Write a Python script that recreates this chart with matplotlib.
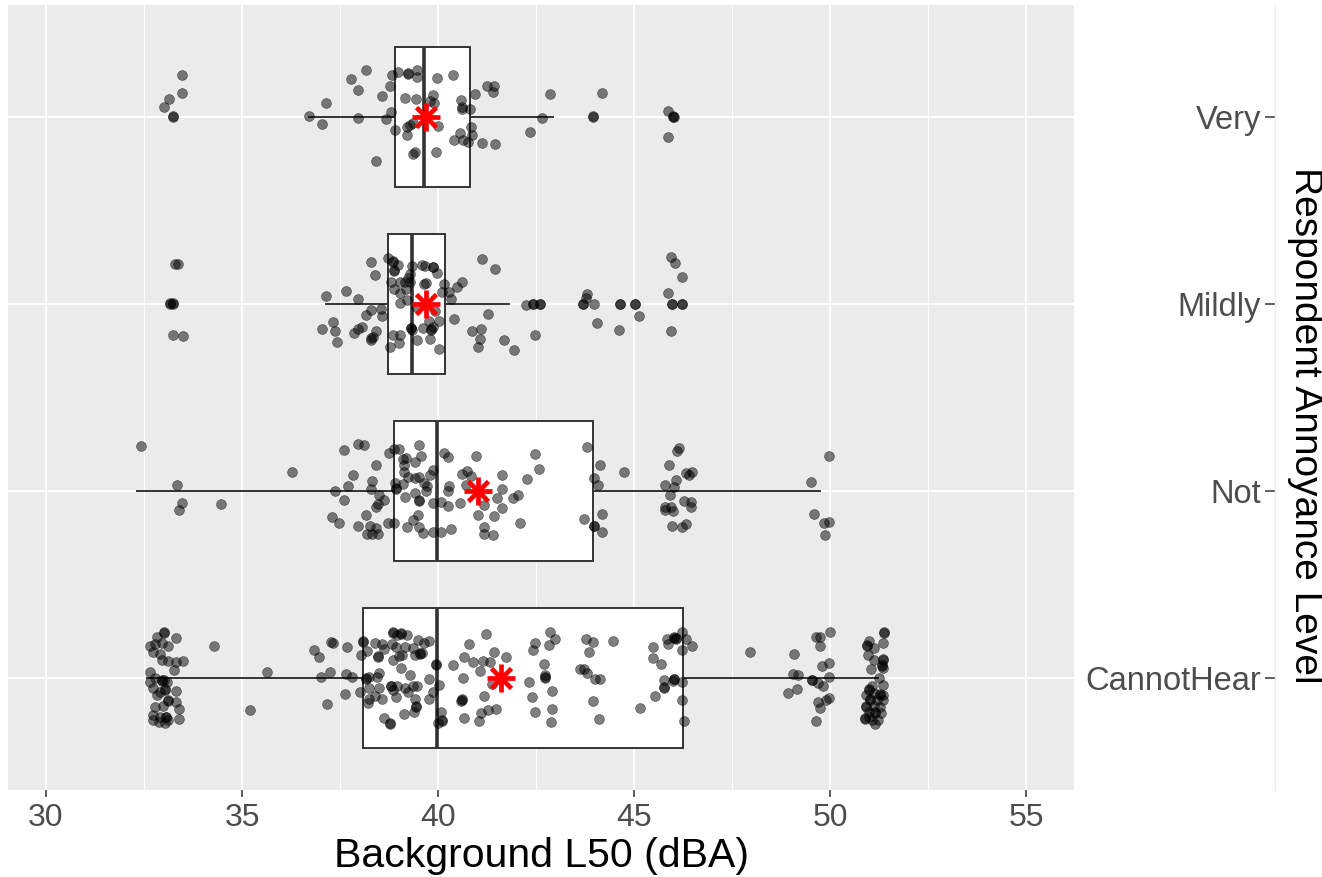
import numpy as np
import matplotlib
matplotlib.use('Agg')
import matplotlib.pyplot as plt

plt.rcParams['font.family'] = ['Liberation Sans', 'DejaVu Sans']

# annoyance levels, bottom to top
levels = ['CannotHear', 'Not', 'Mildly', 'Very']

# box stats (dBA)
whislo = [32.58, 32.33, 37.15, 36.70]
q1 = [38.08, 38.88, 38.71, 38.90]
med = [39.96, 39.97, 39.34, 39.64]
q3 = [46.24, 43.95, 40.18, 40.82]
whishi = [51.22, 49.74, 41.81, 42.94]
means = [41.61, 41.03, 39.69, 39.69]

# jittered points: L50 value and vertical jitter offset
very_x = [33.47, 33.47, 33.13, 33.01, 33.25, 33.25, 36.70, 37.15, 37.04, 37.79,
          38.17, 37.97, 37.96, 38.42, 38.58, 38.68, 38.77, 38.80, 38.82, 38.91,
          38.99, 39.23, 39.23, 39.45, 39.47, 39.15, 39.43, 39.21, 39.28, 39.21,
          39.37, 39.41, 39.37, 39.87, 39.80, 39.89, 39.96, 40.01, 39.95, 40.39,
          40.59, 40.60, 40.62, 40.81, 40.94, 40.84, 40.87, 40.56, 40.41, 40.64,
          40.76, 41.12, 41.44, 41.25, 41.43, 41.41, 42.35, 42.66, 42.86, 43.95,
          43.95, 44.19, 45.87, 45.98, 45.98, 46.02, 45.86]
very_j = [0.227, 0.127, 0.096, 0.055, 0.005, 0.000, 0.005, 0.075, -0.038, 0.204,
          0.254, 0.145, -0.002, -0.236, 0.114, -0.011, 0.164, 0.030, 0.225, -0.068,
          0.239, 0.236, 0.232, 0.252, 0.216, 0.100, 0.098, -0.052, -0.041, -0.098,
          -0.029, -0.184, -0.195, 0.120, 0.088, 0.075, 0.207, -0.045, -0.189, 0.223,
          0.093, 0.055, 0.046, 0.043, 0.123, -0.054, -0.098, -0.086, -0.123, -0.120,
          -0.132, -0.138, -0.145, 0.164, 0.164, 0.136, -0.082, -0.007, 0.123, 0.005,
          0.000, 0.129, 0.034, 0.005, 0.000, 0.002, -0.105]

mild_x = [33.28, 33.37, 33.15, 33.15, 33.24, 33.24, 33.24, 33.50, 37.15, 37.66,
          37.95, 37.32, 37.05, 37.38, 37.42, 37.85, 37.97, 38.07, 38.17, 38.29,
          38.28, 38.40, 38.55, 38.58, 38.41, 38.33, 38.28, 38.29, 38.71, 38.84,
          38.84, 38.87, 38.87, 38.99, 38.80, 38.88, 39.03, 39.16, 39.02, 39.17,
          39.22, 39.29, 39.33, 39.60, 39.67, 39.87, 39.87, 39.98, 39.29, 39.64,
          39.68, 39.04, 39.21, 39.43, 39.77, 40.03, 39.87, 39.82, 39.82, 39.61,
          39.32, 39.32, 39.34, 38.86, 39.02, 39.01, 38.77, 39.46, 39.79, 40.02,
          40.16, 40.11, 40.29, 40.33, 40.49, 40.62, 39.91, 40.41, 41.13, 41.44,
          41.27, 40.87, 41.09, 41.08, 41.01, 41.69, 41.93, 42.25, 42.41, 42.41,
          42.59, 42.59, 42.48, 43.70, 43.70, 43.81, 43.78, 43.98, 44.05, 44.65,
          44.65, 44.61, 45.03, 45.03, 45.13, 45.95, 46.04, 46.23, 45.86, 45.97,
          45.97, 46.23, 46.23, 45.95]
mild_j = [0.213, 0.216, 0.004, 0.000, 0.004, 0.000, -0.164, -0.170, 0.043, 0.070,
          0.029, -0.096, -0.132, -0.146, -0.204, -0.155, -0.136, -0.121, -0.057, -0.034,
          0.227, 0.154, -0.025, -0.064, -0.146, -0.175, -0.193, -0.179, 0.245, 0.229,
          0.225, 0.182, 0.178, 0.209, 0.120, 0.079, 0.120, 0.120, 0.061, 0.079,
          0.141, 0.161, 0.204, 0.207, 0.204, 0.200, 0.196, 0.168, 0.118, 0.107,
          0.114, 0.007, 0.021, -0.014, -0.091, -0.093, -0.125, -0.139, -0.135, -0.129,
          -0.130, -0.126, -0.139, -0.164, -0.164, -0.207, -0.230, -0.193, -0.189, -0.238,
          0.105, 0.066, 0.066, 0.027, 0.091, 0.120, -0.039, -0.080, 0.241, 0.188,
          -0.052, -0.145, -0.132, -0.186, -0.229, -0.193, -0.245, -0.004, 0.000, 0.000,
          0.000, 0.000, -0.168, 0.000, 0.000, 0.052, 0.030, 0.000, -0.104, 0.000,
          0.000, -0.138, 0.000, 0.000, -0.063, 0.252, 0.220, 0.145, 0.059, 0.000,
          0.000, 0.000, 0.000, -0.146]

not_x = [32.42, 33.35, 33.46, 33.40, 34.46, 36.28, 37.60, 37.96, 38.11, 37.84,
         37.70, 37.36, 37.61, 38.41, 38.32, 38.29, 38.49, 38.63, 38.46, 38.42,
         37.29, 37.48, 38.16, 37.95, 38.27, 38.42, 38.19, 38.31, 38.46, 38.72,
         38.87, 38.76, 38.88, 39.01, 38.93, 38.93, 38.91, 39.11, 39.18, 39.13,
         39.13, 39.22, 39.10, 39.15, 39.41, 39.52, 39.57, 39.41, 39.51, 39.63,
         39.73, 39.80, 39.88, 39.69, 39.42, 39.52, 39.52, 39.48, 39.37, 39.20,
         39.52, 39.62, 39.86, 39.88, 40.07, 40.07, 40.14, 40.26, 40.28, 40.26,
         40.26, 40.32, 40.56, 40.61, 40.75, 40.83, 40.71, 40.96, 41.17, 41.01,
         41.16, 41.18, 41.40, 41.42, 41.50, 41.64, 41.64, 41.64, 41.90, 42.03,
         42.08, 42.28, 42.47, 42.58, 43.81, 44.12, 43.98, 44.09, 44.73, 43.73,
         43.97, 43.97, 44.18, 44.18, 46.15, 46.10, 45.88, 46.07, 45.78, 46.01,
         45.91, 46.33, 46.40, 46.48, 46.26, 46.45, 46.45, 45.80, 45.94, 45.78,
         46.00, 45.97, 46.21, 46.32, 49.97, 49.52, 49.58, 49.84, 49.97, 49.88]
not_j = [0.241, 0.032, -0.064, -0.104, -0.070, 0.102, 0.220, 0.250, 0.248, 0.084,
         0.027, -0.002, -0.048, 0.139, 0.055, 0.011, -0.023, -0.046, -0.068, -0.086,
         -0.138, -0.171, -0.129, -0.188, -0.188, -0.196, -0.232, -0.232, -0.232, -0.173,
         -0.171, 0.205, 0.223, 0.223, 0.014, 0.010, 0.043, 0.171, 0.175, 0.139,
         0.100, 0.073, 0.039, -0.032, 0.157, 0.248, 0.186, 0.071, 0.075, 0.041,
         0.027, 0.086, 0.111, 0.000, -0.009, -0.054, -0.050, -0.129, -0.155, -0.193,
         -0.195, -0.227, -0.221, -0.063, -0.061, -0.218, 0.202, 0.182, 0.027, -0.002,
         -0.082, -0.202, -0.066, 0.089, 0.109, 0.082, 0.030, 0.186, -0.075, -0.129,
         -0.191, -0.229, -0.236, -0.132, -0.038, 0.086, 0.013, -0.091, -0.039, -0.021,
         -0.173, 0.064, 0.200, 0.120, 0.234, 0.138, 0.071, 0.030, 0.102, -0.152,
         -0.189, -0.185, -0.125, -0.218, 0.230, 0.216, 0.139, 0.061, 0.034, 0.021,
         -0.020, 0.095, 0.088, 0.104, -0.052, -0.061, -0.086, -0.086, -0.086, -0.104,
         -0.107, -0.188, -0.195, -0.179, 0.188, 0.048, -0.121, -0.173, -0.166, -0.234]

hear_x = [33.01, 33.01, 32.84, 33.31, 32.65, 32.78, 32.95, 33.12, 32.74, 32.91,
          32.95, 33.10, 33.31, 33.50, 33.27, 32.65, 32.78, 32.95, 32.95, 33.08,
          32.72, 32.91, 33.04, 33.04, 33.31, 33.10, 33.10, 33.32, 32.78, 32.99,
          33.40, 32.74, 32.91, 33.06, 33.06, 33.38, 33.12, 32.72, 32.87, 33.04,
          32.65, 33.01, 32.84, 34.28, 35.64, 35.21, 36.83, 36.95, 37.26, 37.33,
          37.67, 37.25, 37.01, 37.65, 37.80, 37.62, 37.17, 38.08, 38.08, 38.04,
          38.01, 38.15, 38.15, 38.23, 38.19, 38.38, 38.56, 38.46, 38.46, 38.62,
          38.49, 38.44, 38.25, 38.50, 38.24, 38.22, 38.40, 38.57, 38.63, 38.77,
          38.77, 38.84, 38.84, 39.06, 39.06, 39.20, 38.95, 38.82, 38.93, 39.16,
          39.35, 39.48, 39.64, 39.78, 39.01, 39.07, 38.84, 39.40, 39.54, 39.54,
          39.59, 39.06, 39.29, 38.95, 38.79, 38.79, 38.86, 38.92, 39.16, 39.23,
          39.37, 39.47, 39.41, 39.44, 39.44, 39.39, 39.12, 39.78, 39.87, 39.77,
          39.95, 39.95, 40.03, 40.07, 40.11, 40.11, 40.01, 40.37, 40.65, 40.79,
          40.88, 41.22, 41.14, 41.33, 41.43, 41.74, 41.08, 40.64, 41.38, 41.18,
          40.62, 40.62, 40.59, 41.48, 41.27, 41.10, 41.05, 40.66, 42.33, 42.47,
          42.42, 42.86, 42.99, 42.84, 42.71, 42.73, 42.73, 42.73, 42.91, 42.40,
          42.46, 42.90, 42.87, 43.78, 43.95, 44.46, 43.85, 43.61, 43.73, 43.79,
          44.01, 44.14, 43.96, 44.10, 45.15, 45.47, 45.49, 45.68, 45.84, 46.02,
          46.02, 46.07, 46.07, 45.87, 46.22, 46.32, 46.47, 46.22, 45.77, 46.02,
          46.02, 46.00, 46.22, 45.77, 45.77, 45.52, 46.21, 46.28, 47.96, 49.09,
          49.64, 49.75, 49.99, 49.74, 49.97, 49.80, 49.04, 49.17, 49.53, 49.53,
          49.69, 49.82, 49.98, 49.15, 48.93, 49.70, 49.90, 49.97, 49.74, 49.63,
          50.98, 51.38, 51.38, 51.34, 50.95, 50.95, 51.11, 50.96, 51.11, 51.36,
          51.36, 51.32, 51.32, 51.05, 51.36, 51.25, 51.36, 51.06, 50.98, 50.98,
          50.92, 51.11, 51.26, 51.26, 51.36, 51.02, 51.02, 51.19, 50.92, 50.92,
          51.11, 51.28, 50.98, 51.15, 51.15, 51.29, 50.89, 50.89, 51.06, 51.15,
          50.98, 51.36, 51.23]
hear_j = [0.245, 0.240, 0.221, 0.214, 0.173, 0.182, 0.186, 0.171, 0.141, 0.129,
          0.096, 0.089, 0.086, 0.091, 0.043, 0.034, -0.002, -0.011, -0.016, -0.020,
          -0.055, -0.073, -0.064, -0.060, -0.071, -0.118, -0.122, -0.127, -0.154, -0.150,
          -0.168, -0.198, -0.207, -0.211, -0.207, -0.218, -0.225, -0.225, -0.234, -0.243,
          -0.020, -0.011, -0.091, 0.168, 0.030, -0.173, 0.150, 0.113, 0.193, 0.186,
          0.166, 0.034, 0.002, 0.023, 0.005, -0.089, -0.138, 0.198, 0.194, 0.120,
          -0.073, -0.007, -0.003, 0.004, 0.146, 0.189, 0.179, 0.118, 0.114, 0.154,
          0.025, 0.007, -0.052, -0.054, -0.113, -0.136, -0.096, -0.114, -0.214, -0.245,
          -0.241, 0.245, 0.241, 0.239, 0.235, 0.230, 0.230, 0.182, 0.164, 0.164,
          0.161, 0.200, 0.189, 0.198, 0.118, 0.120, 0.096, 0.123, 0.132, 0.128,
          0.132, 0.055, 0.014, -0.041, -0.046, -0.042, -0.064, -0.100, -0.055, -0.073,
          -0.046, -0.043, -0.114, -0.154, -0.150, -0.182, -0.195, -0.007, -0.073, -0.114,
          0.075, 0.071, -0.039, -0.182, -0.229, -0.225, -0.243, 0.070, 0.109, 0.180,
          0.084, 0.232, 0.091, 0.086, 0.139, 0.111, 0.039, 0.000, -0.034, -0.098,
          -0.114, -0.118, -0.123, -0.166, -0.171, -0.189, -0.229, -0.216, -0.020, 0.189,
          0.150, 0.246, 0.209, 0.175, 0.073, 0.013, -0.002, 0.002, -0.068, -0.104,
          -0.180, -0.168, -0.234, 0.207, 0.191, 0.196, 0.138, 0.048, 0.046, 0.025,
          -0.004, -0.004, -0.125, -0.221, -0.163, 0.163, 0.105, 0.073, 0.209, 0.216,
          0.212, 0.207, 0.211, 0.179, 0.243, 0.207, 0.171, 0.150, -0.011, -0.004,
          -0.008, -0.016, -0.023, -0.055, -0.051, -0.098, -0.120, -0.229, 0.136, 0.130,
          0.216, 0.218, 0.248, 0.173, 0.079, 0.064, 0.021, 0.016, -0.014, -0.010,
          -0.029, -0.046, 0.004, -0.059, -0.080, -0.129, -0.121, -0.109, -0.163, -0.232,
          0.195, 0.243, 0.239, 0.186, 0.175, 0.171, 0.159, 0.120, 0.096, 0.100,
          0.096, 0.070, 0.066, 0.048, 0.052, -0.002, -0.038, -0.046, -0.064, -0.060,
          -0.091, -0.082, -0.086, -0.090, -0.091, -0.118, -0.114, -0.118, -0.154, -0.150,
          -0.150, -0.154, -0.180, -0.189, -0.185, -0.189, -0.221, -0.217, -0.225, -0.246,
          -0.207, -0.118, -0.225]

xs = [hear_x, not_x, mild_x, very_x]
js = [hear_j, not_j, mild_j, very_j]

fig = plt.figure(figsize=(13.22, 8.77), dpi=100)
ax = fig.add_axes([8/1322, 87/877, 1066/1322, 785/877])
ax.set_facecolor('#EBEBEB')
for s in ax.spines.values():
    s.set_visible(False)

ax.set_xlim(29.03, 56.22)
ax.set_ylim(0.4, 4.6)
ax.set_xticks([30, 35, 40, 45, 50, 55])
ax.set_xticks([32.5, 37.5, 42.5, 47.5, 52.5], minor=True)
ax.set_yticks([1, 2, 3, 4])
ax.tick_params(axis='y', left=False, labelleft=False)
ax.tick_params(axis='x', which='major', length=5, width=1.1, color='#333333',
               labelsize=23, labelcolor='#4D4D4D', pad=4)
ax.tick_params(axis='x', which='minor', length=0)
ax.grid(which='major', color='white', lw=1.5)
ax.grid(which='minor', axis='x', color='white', lw=0.7)
ax.set_axisbelow(True)
ax.set_xlabel('Background L50 (dBA)', fontsize=29.5, color='black', labelpad=3)

stats = []
for i in range(4):
    stats.append(dict(whislo=whislo[i], q1=q1[i], med=med[i], q3=q3[i],
                      whishi=whishi[i], mean=means[i]))
ax.bxp(stats, positions=[1, 2, 3, 4], widths=0.75, orientation='horizontal',
       patch_artist=True, showcaps=False, showfliers=False, showmeans=False,
       boxprops=dict(facecolor='white', edgecolor='#333333', lw=1.4),
       whiskerprops=dict(color='#333333', lw=1.4),
       medianprops=dict(color='#333333', lw=2.6), manage_ticks=False, zorder=2)

for i in range(4):
    yy = np.array(js[i]) + (i + 1)
    ax.scatter(xs[i], yy, s=50, color='black', alpha=0.5, linewidths=0.5,
               edgecolors='black', zorder=3)

ax.plot(means, [1, 2, 3, 4], ls='none', marker='+', ms=20, mew=3.4, color='red', zorder=4)
ax.plot(means, [1, 2, 3, 4], ls='none', marker='x', ms=14.5, mew=3.4, color='red', zorder=4)

# level labels sit on their own strip at the right
ax2 = fig.add_axes([1275/1322, 87/877, 0.0005, 785/877])
ax2.set_ylim(0.4, 4.6)
ax2.set_xticks([])
ax2.set_yticks([1, 2, 3, 4])
ax2.set_yticklabels(levels)
ax2.patch.set_visible(False)
for k in ['top', 'right', 'bottom']:
    ax2.spines[k].set_visible(False)
ax2.spines['left'].set_color('#EBEBEB')
ax2.spines['left'].set_linewidth(1.0)
ax2.tick_params(axis='y', length=7, width=1.1, color='#333333',
                labelsize=23.5, labelcolor='#4D4D4D', pad=3)

fig.text(1305/1322, 1 - 425/877, 'Respondent Annoyance Level', rotation=270,
         fontsize=28, ha='center', va='center', color='black')

fig.savefig('out.png', dpi=100)
